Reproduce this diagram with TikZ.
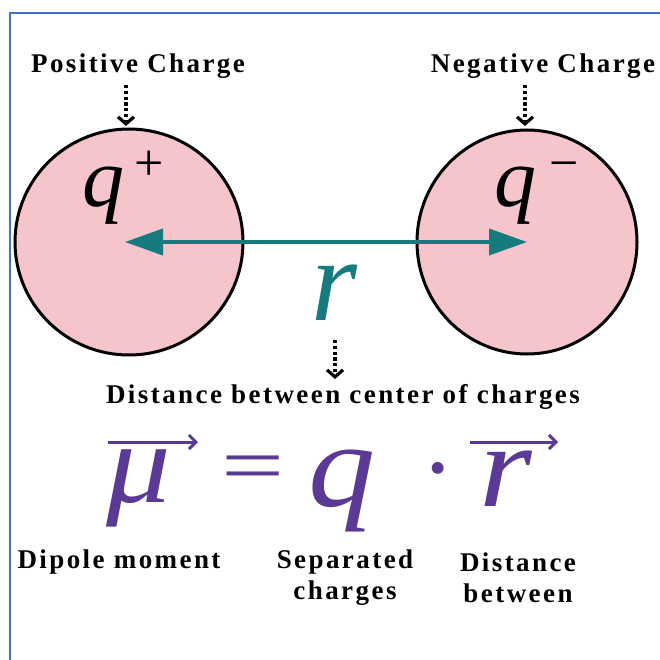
\documentclass[tikz,border=0pt]{standalone}
\usepackage{fontspec}
\setmainfont{Liberation Serif}
\usetikzlibrary{arrows.meta}
\definecolor{frameblue}{HTML}{4472C4}
\definecolor{chargepink}{HTML}{F6C5CB}
\definecolor{tealc}{HTML}{177A7F}
\definecolor{purplec}{HTML}{5B3A96}
\tikzset{
  lbl/.style={font=\fontsize{27}{31}\selectfont\bfseries\addfontfeature{LetterSpace=9}, inner sep=0pt, align=center},
  charge/.style={draw=black, line width=3pt, fill=chargepink},
  dotarrow/.style={line width=3.5pt, dash pattern=on 3.2pt off 2.6pt, -{Straight Barb[length=7pt,width=16pt,line width=3.2pt]}},
  bigmath/.style={font=\fontsize{#1}{#1}\selectfont\itshape, inner sep=0pt},
  plainsym/.style={font=\fontsize{#1}{#1}\selectfont, inner sep=0pt},
  vecarrow/.style={purplec, line width=3pt, -{Straight Barb[length=7pt,width=14pt,line width=3pt]}}
}
\begin{document}
\begin{tikzpicture}[x=1pt,y=-1pt]
\useasboundingbox (0,0) rectangle (659,660);
% frame
\draw[frameblue, line width=1.5pt] (10,662) -- (10,13) -- (662,13);
% charges
\draw[charge] (129,242) ellipse [x radius=114, y radius=113];
\draw[charge] (527,242) ellipse [x radius=110, y radius=112];
\coordinate (cl) at (125,242);
\coordinate (cr) at (527,242);
% top labels
\node[lbl, anchor=base] (pos) at (138,73) {Positive Charge};
\node[lbl, anchor=base] (neg) at (543,73) {Negative Charge};
\coordinate (posT) at (126,85);
\coordinate (posB) at (126,126);
\coordinate (negT) at (525,85);
\coordinate (negB) at (525,126);
\draw[dotarrow] (posT) -- (posB);
\draw[dotarrow] (negT) -- (negB);
% q labels
\node[bigmath=84, anchor=base] (qp) at (103,207) {q};
\node[plainsym=52, anchor=center] (qps) at (149,166) {+};
\node[bigmath=84, anchor=base] (qm) at (515,207) {q};
\node[plainsym=52, anchor=base] (qms) at (564,181) {−};
% r arrow
\draw[tealc, line width=4pt, {Triangle[length=38pt,width=26pt]}-{Triangle[length=38pt,width=26pt]}] (cl) -- (cr);
\node[bigmath=118, text=tealc, anchor=base] (r) at (334,320) {r};
\coordinate (rT) at (335,340);
\coordinate (rB) at (335,379);
\draw[dotarrow] (rT) -- (rB);
\node[lbl, anchor=base] (dist) at (343,403) {Distance between center of charges};
% formula
\node[bigmath=115, text=purplec, anchor=base] (mu) at (139,502) {\scalebox{1.12}[1]{μ}};
\node[plainsym=80, text=purplec, anchor=base] (eq) at (253,492) {\scalebox{1.4}[1]{=}};
\node[bigmath=120, text=purplec, anchor=base] (q) at (342,506) {\scalebox{1.12}[1]{q}};
\node[plainsym=100, text=purplec, anchor=base] (dot) at (438,501) {·};
\node[bigmath=118, text=purplec, anchor=base] (rr) at (506,506) {\scalebox{1.15}[1]{r}};
\coordinate (muA) at (108,442);
\coordinate (muB) at (198,442);
\coordinate (rA) at (470,442);
\coordinate (rB2) at (558,442);
\draw[vecarrow] (muA) -- (muB);
\draw[vecarrow] (rA) -- (rB2);
% bottom labels
\node[lbl, anchor=base] (dip) at (119,568) {Dipole moment};
\node[lbl] (sep) at (345,578) {Separated\\charges};
\node[lbl] (db) at (518,578) {Distance\\between};
\end{tikzpicture}
\end{document}
